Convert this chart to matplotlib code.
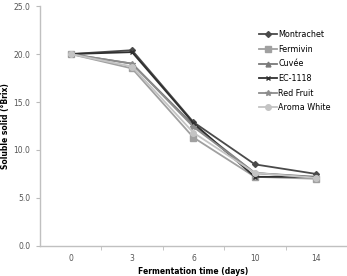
import matplotlib
matplotlib.use("Agg")
import matplotlib.pyplot as plt
from matplotlib.ticker import MultipleLocator, FixedLocator

# fermentation days (categorical axis)
days = ['0', '3', '6', '10', '14']

montrachet = [20.0, 20.4, 12.9, 8.5, 7.5]
fermivin = [20.0, 18.5, 11.3, 7.2, 7.0]
cuvee = [20.0, 19.0, 12.6, 7.6, 7.2]
ec1118 = [20.0, 20.2, 12.8, 7.2, 7.2]
red_fruit = [20.0, 19.0, 12.4, 7.6, 7.1]
aroma_white = [20.0, 18.7, 11.8, 7.6, 7.1]

names = ['Montrachet', 'Fermivin', 'Cuvée', 'EC-1118', 'Red Fruit', 'Aroma White']
series = [montrachet, fermivin, cuvee, ec1118, red_fruit, aroma_white]
colors = ['#4a4a4a', '#a0a0a0', '#7a7a7a', '#303030', '#8c8c8c', '#c4c4c4']
markers = ['D', 's', '^', 'x', '*', 'o']
msizes = [3, 4, 3.5, 3.5, 4, 4]

plt.rcParams['font.family'] = ['DejaVu Sans']

fig = plt.figure(figsize=(3.47, 2.76), dpi=100)
ax = fig.add_axes([0.115, 0.109, 0.885, 0.869])

x = list(range(len(days)))
for vals, name, c, m, ms in zip(series, names, colors, markers, msizes):
    ax.plot(x, vals, color=c, marker=m, markersize=ms, linewidth=1.3,
            markeredgecolor=c, label=name)

ax.set_xlim(-0.5, 4.5)
ax.set_ylim(0, 25)
ax.set_xticks(x)
ax.set_xticklabels(days)
ax.xaxis.set_minor_locator(FixedLocator([0.5, 1.5, 2.5, 3.5]))
ax.tick_params(axis='x', which='major', length=0, labelsize=5.5, colors='#555555', pad=6)
ax.tick_params(axis='x', which='minor', length=3, color='#bbbbbb', direction='out')
ax.yaxis.set_major_locator(MultipleLocator(5))
ax.yaxis.set_major_formatter(plt.FormatStrFormatter('%.1f'))
ax.tick_params(axis='y', length=3, color='#bbbbbb', labelsize=5.5, labelcolor='#555555', pad=4)

for s in ['top', 'right']:
    ax.spines[s].set_visible(False)
for s in ['left', 'bottom']:
    ax.spines[s].set_color('#c0c0c0')
    ax.spines[s].set_linewidth(1)

ax.set_xlabel('Fermentation time (days)', fontsize=5.5, fontweight='bold')
ax.set_ylabel('Soluble solid (°Brix)', fontsize=5.5, fontweight='bold')
ax.xaxis.set_label_coords(0.5, -0.088)
ax.yaxis.set_label_coords(-0.097, 0.5)

leg = ax.legend(loc='upper left', bbox_to_anchor=(0.69, 0.93), frameon=False,
                fontsize=5.8, handlelength=2.2, handletextpad=0.2, labelspacing=0.7)

fig.savefig('out.png', dpi=100)
